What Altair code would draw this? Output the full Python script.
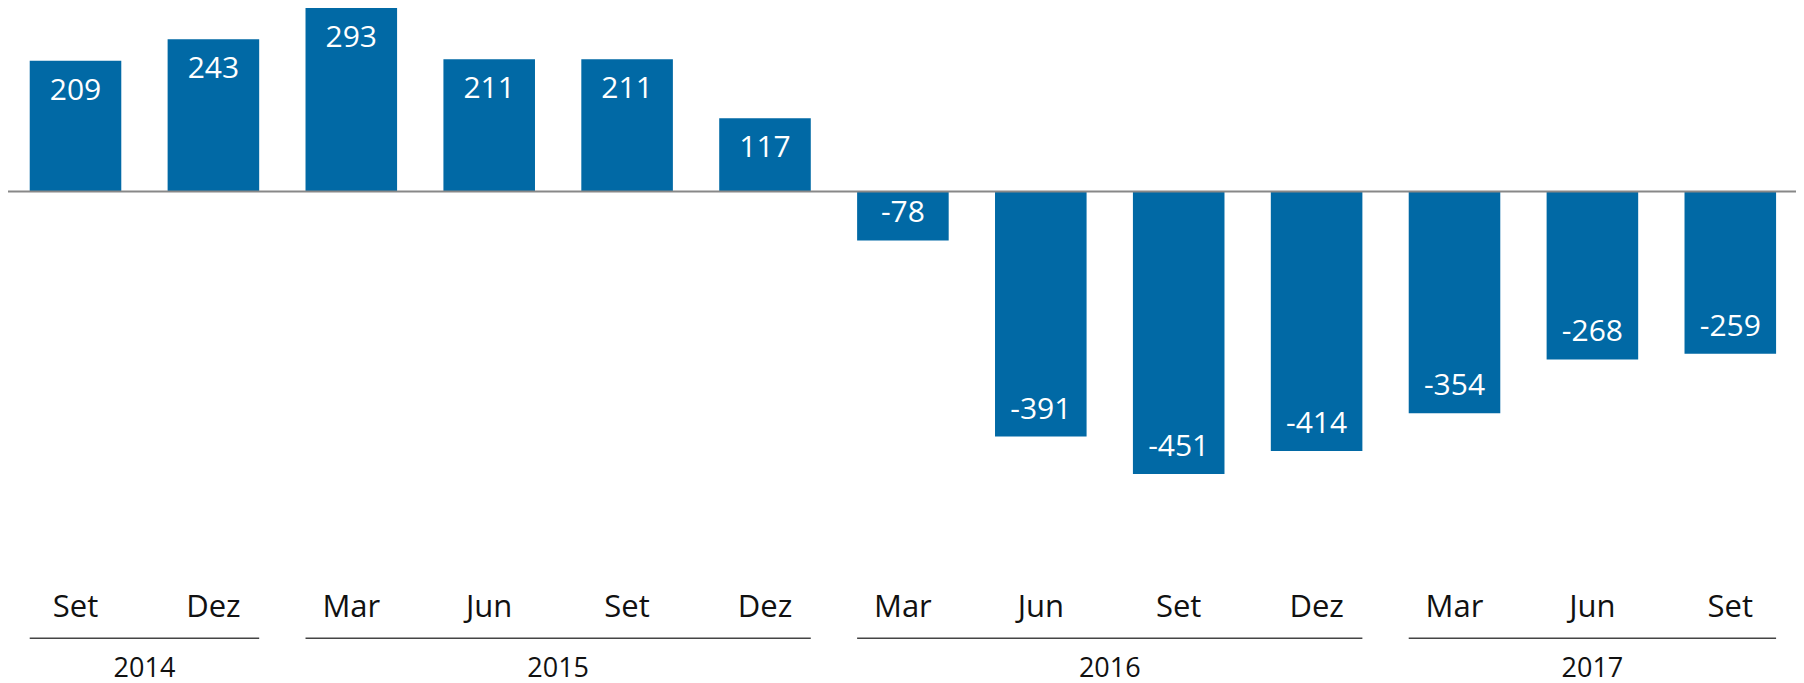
import altair as alt
import pandas as pd

# ---- data ----
months = ["Set", "Dez", "Mar", "Jun", "Set", "Dez", "Mar", "Jun", "Set", "Dez", "Mar", "Jun", "Set"]
years = ["2014", "2014", "2015", "2015", "2015", "2015", "2016", "2016", "2016", "2016", "2017", "2017", "2017"]
values = [209, 243, 293, 211, 211, 117, -78, -391, -451, -414, -354, -268, -259]

df = pd.DataFrame({"idx": list(range(len(values))), "month": months, "year": years, "value": values})

# ---- layout / style ----
W, H = 1788, 675
HALF = 0.332                      # half bar width in index units
PX_PER_UNIT = 0.6265
BAR_COLOR = "#0169a5"
FONT = "Open Sans"

x_dom = [-0.4895, -0.4895 + W / 137.9]
y_top = max(values)
y_dom = [y_top - H / PX_PER_UNIT, y_top]

xs = alt.Scale(domain=x_dom, nice=False, zero=False)
ys = alt.Scale(domain=y_dom, nice=False, zero=False)

base = alt.Chart(df).transform_calculate(label="'' + datum.value")

bars = base.transform_calculate(
    x1=f"datum.idx - {HALF}", x2=f"datum.idx + {HALF}"
).mark_bar(color=BAR_COLOR).encode(
    x=alt.X("x1:Q", scale=xs, axis=None),
    x2="x2:Q",
    y=alt.Y("value:Q", scale=ys, axis=None),
    y2=alt.datum(0),
)

zero = alt.Chart(pd.DataFrame({"z": [0]})).mark_rule(color="#888888", strokeWidth=2).encode(
    y=alt.Y("z:Q", scale=ys, axis=None),
    x=alt.value(0),
    x2=alt.value(W),
)

pos_lbl = base.transform_filter("datum.value > 0").mark_text(
    font=FONT, fontSize=30, color="white", baseline="middle", align="center", dy=30
).encode(
    x=alt.X("idx:Q", scale=xs, axis=None),
    y=alt.Y("value:Q", scale=ys, axis=None),
    text=alt.Text("label:N"),
)

neg_lbl = base.transform_filter("datum.value < 0").mark_text(
    font=FONT, fontSize=30, color="white", baseline="middle", align="center", dy=-27
).encode(
    x=alt.X("idx:Q", scale=xs, axis=None),
    y=alt.Y("value:Q", scale=ys, axis=None),
    text=alt.Text("label:N"),
)

month_lbl = base.mark_text(
    font=FONT, fontSize=31, color="#111111", baseline="middle", align="center"
).encode(
    x=alt.X("idx:Q", scale=xs, axis=None),
    y=alt.value(600),
    text="month:N",
)

year_base = alt.Chart(df).transform_aggregate(
    start="min(idx)", end="max(idx)", groupby=["year"]
).transform_calculate(
    x1=f"datum.start - {HALF}", x2=f"datum.end + {HALF}", mid="(datum.start + datum.end) / 2"
)

year_rule = year_base.mark_rule(color="#444444", strokeWidth=1.5).encode(
    x=alt.X("x1:Q", scale=xs, axis=None),
    x2="x2:Q",
    y=alt.value(630.3),
)

year_lbl = year_base.mark_text(
    font=FONT, fontSize=27, color="#111111", baseline="middle", align="center"
).encode(
    x=alt.X("mid:Q", scale=xs, axis=None),
    y=alt.value(660.5),
    text="year:N",
)

chart = alt.layer(
    bars, zero, pos_lbl, neg_lbl, month_lbl, year_rule, year_lbl
).properties(
    width=W, height=H, padding=0, autosize=alt.AutoSizeParams(type="none"),
    background="white",
).configure_view(stroke=None)

chart.save("out.html", embed_options={"renderer": "svg", "actions": False})
